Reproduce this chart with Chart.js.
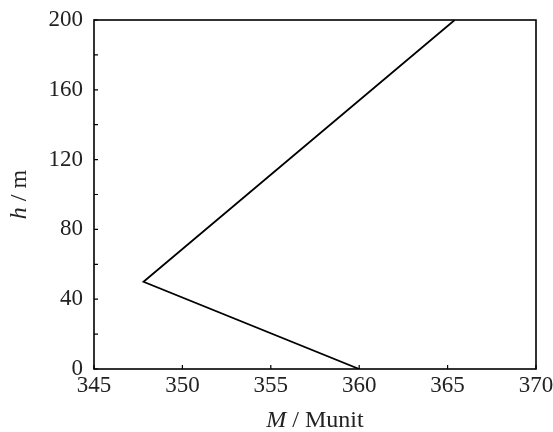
<!DOCTYPE html>
<html>
<head>
<meta charset="utf-8">
<script src="https://cdn.jsdelivr.net/npm/chart.js@4/dist/chart.umd.min.js"></script>
<style>
  html, body { margin: 0; padding: 0; background: #fff; }
  #wrap { width: 553px; height: 432px; }
</style>
</head>
<body>
<div id="wrap"><canvas id="chart"></canvas></div>
<script>
// profile: M value against height
const mValues = [360, 347.8, 365.4]
const hValues = [0, 50, 200]
const xTicks = [345, 350, 355, 360, 365, 370]
const yTicks = [0, 40, 80, 120, 160, 200]
const yMinorTicks = [20, 60, 100, 140, 180]

const serif = '"Liberation Serif", "DejaVu Serif", serif'

// frame, inward tick marks and mixed-style axis titles
const framePlugin = {
  id: 'frame',
  afterDraw(chart) {
    const ctx = chart.ctx
    const a = chart.chartArea
    const xs = chart.scales.x
    const ys = chart.scales.y
    ctx.save()
    ctx.strokeStyle = '#000'
    ctx.lineWidth = 1.6
    ctx.strokeRect(a.left, a.top, a.right - a.left, a.bottom - a.top)

    ctx.lineWidth = 1.2
    ctx.beginPath()
    xTicks.forEach(v => {
      const px = xs.getPixelForValue(v)
      ctx.moveTo(px, a.bottom)
      ctx.lineTo(px, a.bottom - 4)
    })
    yTicks.concat(yMinorTicks).forEach(v => {
      const py = ys.getPixelForValue(v)
      ctx.moveTo(a.left, py)
      ctx.lineTo(a.left + 4, py)
    })
    ctx.stroke()

    ctx.fillStyle = '#222'
    ctx.textBaseline = 'middle'

    // x title: M / Munit
    const xParts = [['italic 24px ' + serif, 'M'], ['24px ' + serif, ' / Munit']]
    drawParts(ctx, xParts, (a.left + a.right) / 2, 421)

    // y title: h / m, rotated
    ctx.translate(20, (a.top + a.bottom) / 2)
    ctx.rotate(-Math.PI / 2)
    const yParts = [['italic 24px ' + serif, 'h'], ['24px ' + serif, ' / m']]
    drawParts(ctx, yParts, 0, 0)
    ctx.restore()
  }
}

function drawParts(ctx, parts, cx, cy) {
  let total = 0
  parts.forEach(p => {
    ctx.font = p[0]
    total += ctx.measureText(p[1]).width
  })
  let x = cx - total / 2
  ctx.textAlign = 'left'
  parts.forEach(p => {
    ctx.font = p[0]
    ctx.fillText(p[1], x, cy)
    x += ctx.measureText(p[1]).width
  })
}

const ctx = document.getElementById('chart').getContext('2d')
new Chart(ctx, {
  type: 'scatter',
  data: {
    datasets: [{
      data: mValues.map((m, i) => ({ x: m, y: hValues[i] })),
      showLine: true,
      borderColor: '#000',
      borderWidth: 1.8,
      pointRadius: 0,
      tension: 0
    }]
  },
  options: {
    responsive: true,
    maintainAspectRatio: false,
    animation: false,
    layout: { padding: { top: 20, right: 17, left: 0, bottom: 0 } },
    plugins: {
      legend: { display: false },
      tooltip: { enabled: false }
    },
    scales: {
      x: {
        type: 'linear',
        min: 345,
        max: 370,
        afterBuildTicks(scale) { scale.ticks = xTicks.map(v => ({ value: v })) },
        afterFit(scale) {
          scale.height = 63
          scale.paddingLeft = 0
          scale.paddingRight = 0
        },
        grid: { display: false, drawTicks: false, tickLength: 0 },
        border: { display: false },
        ticks: {
          color: '#222',
          font: { family: serif, size: 23 },
          padding: 3,
          maxRotation: 0
        }
      },
      y: {
        type: 'linear',
        min: 0,
        max: 200,
        afterBuildTicks(scale) { scale.ticks = yTicks.map(v => ({ value: v })) },
        afterFit(scale) {
          scale.width = 94
          scale.paddingTop = 0
          scale.paddingBottom = 0
        },
        grid: { display: false, drawTicks: false, tickLength: 0 },
        border: { display: false },
        ticks: {
          color: '#222',
          font: { family: serif, size: 23 },
          padding: 11
        }
      }
    }
  },
  plugins: [framePlugin]
})
</script>
</body>
</html>
